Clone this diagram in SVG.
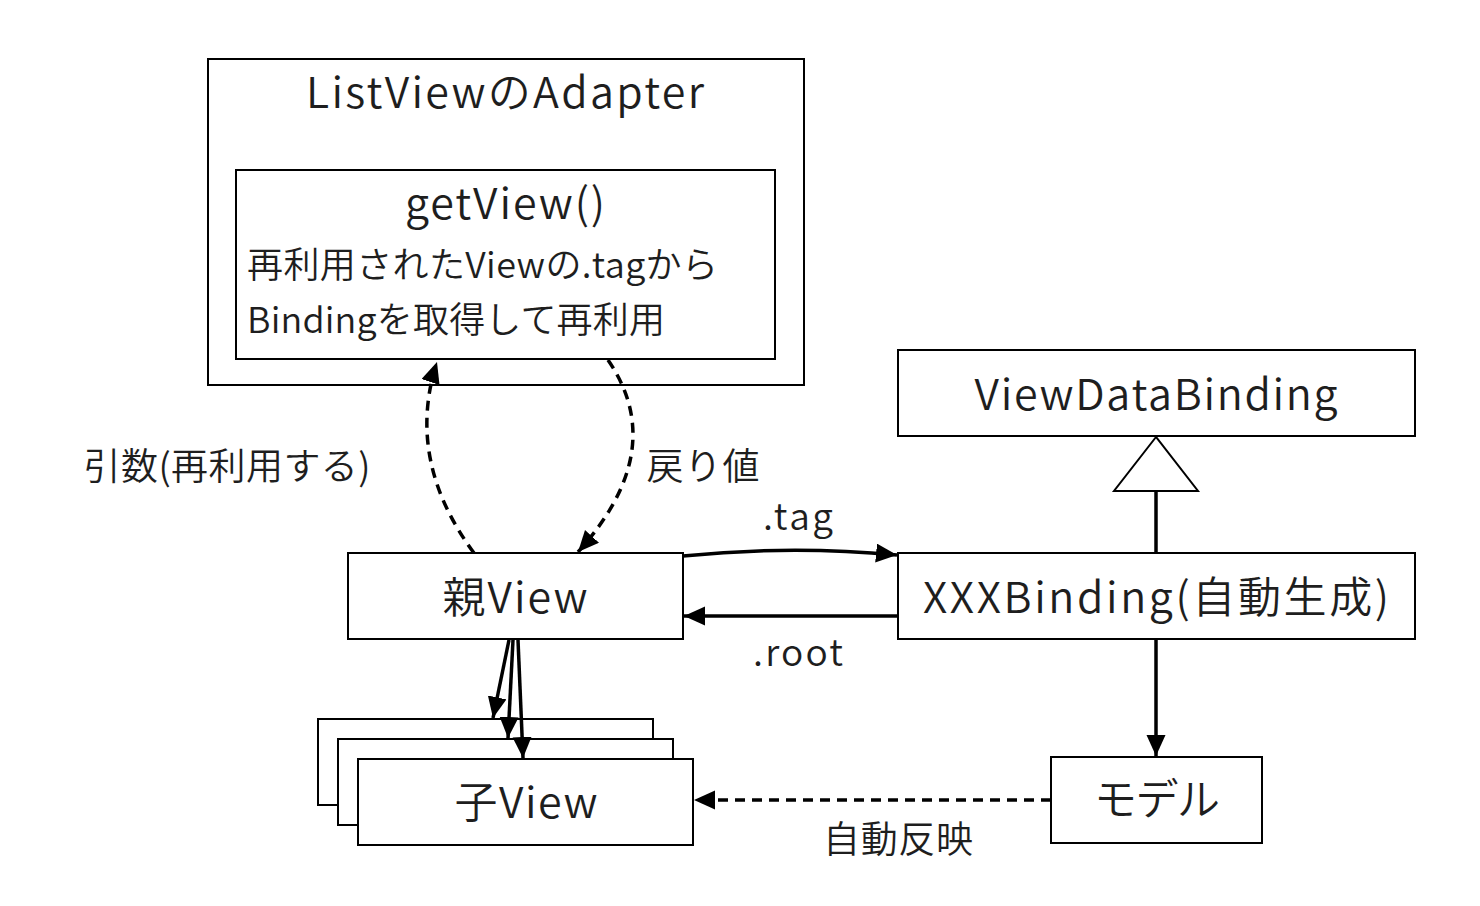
<svg xmlns="http://www.w3.org/2000/svg" width="1480" height="906" viewBox="0 0 1480 906">
<style>
.box{fill:#fff;stroke:#000;stroke-width:2}
.t{font-family:"Noto Sans CJK JP","Noto Sans",sans-serif;font-weight:350;fill:#1e1e1e;text-anchor:middle}
.big{font-size:43px}
.mid{font-size:36px}
.lbl{font-size:37px}
.c{fill:none;stroke:#000;stroke-width:3.5}
.d{stroke-dasharray:10 7}
</style>
<defs>
<marker id="ah" markerUnits="userSpaceOnUse" markerWidth="24" markerHeight="20" refX="21" refY="9.5" orient="auto">
<path d="M0,0 L21,9.5 L0,19 Z" fill="#000"/>
</marker>
</defs>
<rect width="1480" height="906" fill="#fff"/>
<g id="adapter">
<rect class="box" x="208" y="59" width="596" height="326"/>
<text class="t big" x="505" y="108" textLength="398">ListViewのAdapter</text>
</g>
<g id="getview">
<rect class="box" x="236" y="170" width="539" height="189"/>
<text class="t big" x="505" y="219" textLength="200">getView()</text>
<text class="t mid" x="247" y="278" style="text-anchor:start" textLength="471">再利用されたViewの.tagから</text>
<text class="t mid" x="247" y="333" style="text-anchor:start" textLength="418">Bindingを取得して再利用</text>
</g>
<g id="viewdatabinding">
<rect class="box" x="898" y="350" width="517" height="86"/>
<text class="t big" x="1156" y="410" textLength="363">ViewDataBinding</text>
</g>
<g id="oyaview">
<rect class="box" x="348" y="553" width="335" height="86"/>
<text class="t big" x="515" y="613" textLength="145">親View</text>
</g>
<g id="xxxbinding">
<rect class="box" x="898" y="553" width="517" height="86"/>
<text class="t big" x="1156" y="613" textLength="466">XXXBinding(自動生成)</text>
</g>
<g id="koview">
<rect class="box" x="318" y="719" width="335" height="86"/>
<rect class="box" x="338" y="739" width="335" height="86"/>
<rect class="box" x="358" y="759" width="335" height="86"/>
<text class="t big" x="526" y="818" textLength="143">子View</text>
</g>
<g id="model">
<rect class="box" x="1051" y="757" width="211" height="86"/>
<text class="t big" x="1157" y="815" textLength="126">モデル</text>
</g>
<g id="connectors">
<path class="c d" d="M474,553 Q405,460 437,362" marker-end="url(#ah)"/>
<path class="c d" d="M608,360 Q670,450 578,552" marker-end="url(#ah)"/>
<path class="c" d="M683,556 Q790,545 897,555" marker-end="url(#ah)"/>
<path class="c" d="M897,616 L684,616" marker-end="url(#ah)"/>
<path class="c" d="M1156,640 L1156,756" marker-end="url(#ah)"/>
<path class="c" d="M1156,491 L1156,553"/>
<polygon points="1156,437 1114,491 1198,491" fill="#fff" stroke="#000" stroke-width="2"/>
<path class="c d" d="M1051,800 L694,800" marker-end="url(#ah)"/>
<path class="c" d="M509,640 L493,718" marker-end="url(#ah)"/>
<path class="c" d="M513,640 L508,738" marker-end="url(#ah)"/>
<path class="c" d="M518,640 L523,758" marker-end="url(#ah)"/>
<text class="t lbl" x="227" y="480" textLength="287">引数(再利用する)</text>
<text class="t lbl" x="703" y="480" textLength="113">戻り値</text>
<text class="t lbl" x="798" y="530" textLength="70">.tag</text>
<text class="t lbl" x="798" y="666" textLength="90">.root</text>
<text class="t lbl" x="898" y="853" textLength="150">自動反映</text>
</g>
</svg>
